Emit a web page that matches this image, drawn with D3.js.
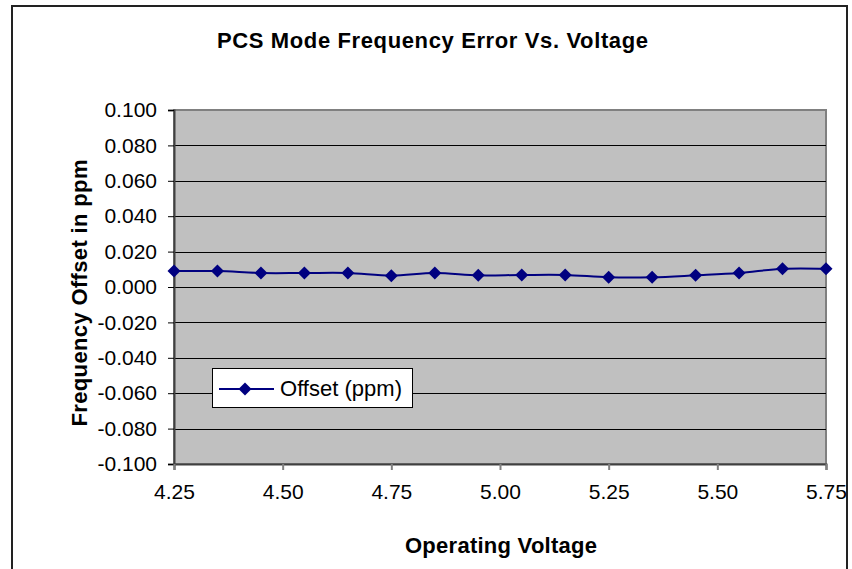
<!DOCTYPE html>
<html>
<head>
<meta charset="utf-8">
<script src="https://cdn.jsdelivr.net/npm/d3@7"></script>
<style>
  html, body { margin: 0; padding: 0; background: #fff; }
  svg { display: block; }
  text { font-family: "Liberation Sans", Arial, sans-serif; fill: #000; }
</style>
</head>
<body>
<svg id="chart" width="852" height="569"></svg>
<script>
// Operating voltage (V) at each measurement
const voltages = [4.25, 4.35, 4.45, 4.55, 4.65, 4.75, 4.85, 4.95, 5.05, 5.15, 5.25, 5.35, 5.45, 5.55, 5.65, 5.75];
// Frequency offset (ppm) measured at each voltage
const offsets = [0.0090, 0.0090, 0.0079, 0.0079, 0.0079, 0.0064, 0.0079, 0.0066, 0.0068, 0.0068, 0.0055, 0.0055, 0.0066, 0.0079, 0.0103, 0.0103];
// Axis ticks
const xTicks = [4.25, 4.50, 4.75, 5.00, 5.25, 5.50, 5.75];
const yTicks = [-0.100, -0.080, -0.060, -0.040, -0.020, 0.000, 0.020, 0.040, 0.060, 0.080, 0.100];

const titleText = "PCS Mode Frequency Error Vs. Voltage";
const xTitle = "Operating Voltage";
const yTitle = "Frequency Offset in ppm";
const seriesName = "Offset (ppm)";

const svg = d3.select("#chart");
const plot = { left: 174, right: 826, top: 110, bottom: 464 };
const navy = "#000080";

const x = d3.scaleLinear().domain([4.25, 5.75]).range([plot.left, plot.right]);
const y = d3.scaleLinear().domain([-0.1, 0.1]).range([plot.bottom, plot.top]);

const fmtY = d3.formatLocale({ decimal: ".", thousands: ",", grouping: [3], currency: ["", ""], minus: "-" }).format(".3f");
const fmtX = d3.format(".2f");

// Chart frame
svg.append("rect")
  .attr("x", 12).attr("y", 6).attr("width", 835).attr("height", 600)
  .attr("fill", "#fff").attr("stroke", "#222").attr("stroke-width", 2);

// Plot area
svg.append("rect")
  .attr("x", plot.left).attr("y", plot.top)
  .attr("width", plot.right - plot.left).attr("height", plot.bottom - plot.top)
  .attr("fill", "#c0c0c0").attr("stroke", "#808080").attr("stroke-width", 2);

// Horizontal gridlines
svg.append("g").selectAll("line")
  .data(yTicks.filter(d => Math.abs(d) < 0.0999))
  .join("line")
  .attr("x1", plot.left).attr("x2", plot.right)
  .attr("y1", d => Math.round(y(d)) + 0.5).attr("y2", d => Math.round(y(d)) + 0.5)
  .attr("stroke", "#000").attr("stroke-width", 1);

// Y axis
const yAxis = svg.append("g")
  .attr("transform", `translate(${plot.left},0)`)
  .call(d3.axisLeft(y).tickValues(yTicks).tickFormat(fmtY).tickSize(6).tickPadding(11));
yAxis.select(".domain").attr("stroke", "#404040").attr("stroke-width", 2);
yAxis.selectAll(".tick line").attr("stroke", "#000");
yAxis.selectAll(".tick text")
  .style("font-family", "'Liberation Sans', Arial, sans-serif")
  .style("font-size", "21px").attr("fill", "#000");

// X axis
const xAxis = svg.append("g")
  .attr("transform", `translate(0,${plot.bottom})`)
  .call(d3.axisBottom(x).tickValues(xTicks).tickFormat(fmtX).tickSize(6).tickPadding(14));
xAxis.select(".domain").attr("stroke", "#404040").attr("stroke-width", 2);
xAxis.selectAll(".tick line").attr("stroke", "#808080").attr("stroke-width", 2);
xAxis.selectAll(".tick text")
  .style("font-family", "'Liberation Sans', Arial, sans-serif")
  .style("font-size", "21px").attr("fill", "#000");

// Data series
const pts = voltages.map((v, i) => [v, offsets[i]]);
const line = d3.line()
  .x(d => x(d[0])).y(d => y(d[1]))
  .curve(d3.curveCardinal.tension(0));
svg.append("path")
  .datum(pts)
  .attr("d", line)
  .attr("fill", "none").attr("stroke", navy).attr("stroke-width", 2);

// Diamond markers (half-diagonal about 6.5px)
const diamond = d3.symbol().type(d3.symbolDiamond2).size(108);
svg.append("g").selectAll("path")
  .data(pts)
  .join("path")
  .attr("transform", d => `translate(${x(d[0])},${y(d[1])})`)
  .attr("d", diamond)
  .attr("fill", navy);

// Legend
const legend = svg.append("g");
legend.append("rect")
  .attr("x", 212.5).attr("y", 368.5).attr("width", 200).attr("height", 39)
  .attr("fill", "#fff").attr("stroke", "#000").attr("stroke-width", 1);
legend.append("line")
  .attr("x1", 219).attr("x2", 274).attr("y1", 389).attr("y2", 389)
  .attr("stroke", navy).attr("stroke-width", 2);
legend.append("path")
  .attr("transform", "translate(245,389)")
  .attr("d", diamond).attr("fill", navy);
legend.append("text")
  .attr("x", 280).attr("y", 396)
  .style("font-size", "22px")
  .attr("textLength", 122).attr("lengthAdjust", "spacing")
  .text(seriesName);

// Titles
svg.append("text")
  .attr("x", 432.5).attr("y", 48)
  .attr("text-anchor", "middle")
  .style("font-size", "22px").style("font-weight", "bold")
  .attr("textLength", 431).attr("lengthAdjust", "spacing")
  .text(titleText);

svg.append("text")
  .attr("x", 501).attr("y", 553)
  .attr("text-anchor", "middle")
  .style("font-size", "22px").style("font-weight", "bold")
  .attr("textLength", 192).attr("lengthAdjust", "spacing")
  .text(xTitle);

svg.append("text")
  .attr("transform", "translate(87,293) rotate(-90)")
  .attr("text-anchor", "middle")
  .style("font-size", "22px").style("font-weight", "bold")
  .attr("textLength", 267).attr("lengthAdjust", "spacing")
  .text(yTitle);
</script>
</body>
</html>
